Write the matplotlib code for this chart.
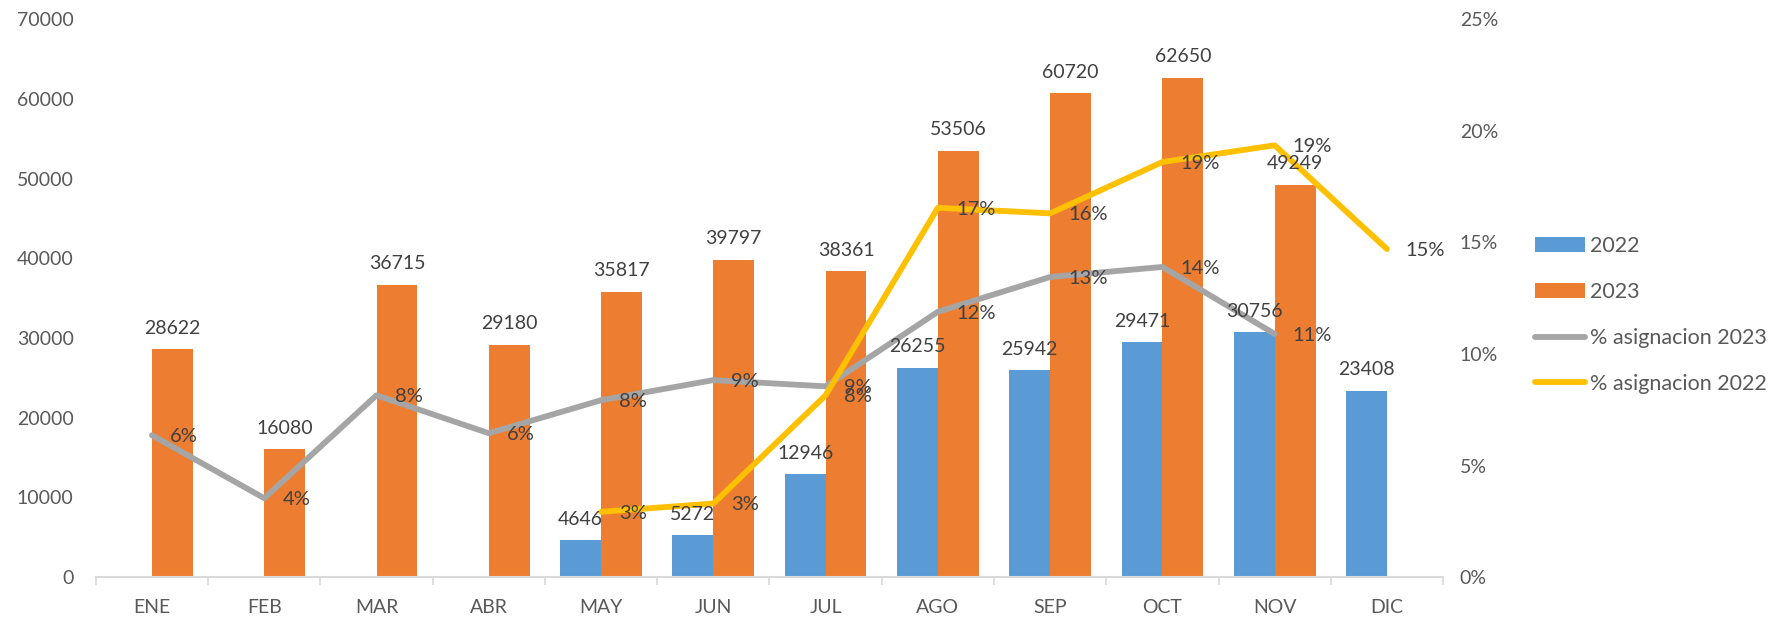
import numpy as np
import matplotlib
matplotlib.use("Agg")
import matplotlib.pyplot as plt
from matplotlib.ticker import FuncFormatter, FixedLocator

months = ["ENE", "FEB", "MAR", "ABR", "MAY", "JUN", "JUL", "AGO", "SEP", "OCT", "NOV", "DIC"]
v2022 = [None, None, None, None, 4646, 5272, 12946, 26255, 25942, 29471, 30756, 23408]
v2023 = [28622, 16080, 36715, 29180, 35817, 39797, 38361, 53506, 60720, 62650, 49249, None]
pct2023 = [0.0636, 0.0354, 0.0815, 0.0645, 0.0793, 0.0883, 0.0855, 0.1189, 0.1345, 0.1390, 0.1090, None]
pct2022 = [None, None, None, None, 0.0293, 0.0330, 0.0815, 0.1655, 0.1630, 0.1860, 0.1935, 0.1470]

plt.rcParams['font.family'] = ['Lato', 'DejaVu Sans']

C_BLUE = "#5B9BD5"
C_ORANGE = "#ED7D31"
C_GRAY = "#A5A5A5"
C_GOLD = "#FFC000"
C_TICK = "#595959"
C_LAB = "#404040"

fig = plt.figure(figsize=(17.75, 6.18), dpi=100)
ax = fig.add_axes([0.054, 0.066, 0.759, 0.903])
ax2 = ax.twinx()

x = np.arange(len(months))
bw = 0.364

def pairs(vals):
    xs = [i for i, v in enumerate(vals) if v is not None]
    ys = [vals[i] for i in xs]
    return np.array(xs, dtype=float), np.array(ys, dtype=float)

bx22, by22 = pairs(v2022)
bx23, by23 = pairs(v2023)
b1 = ax.bar(bx22 - bw / 2, by22, width=bw, color=C_BLUE, label="2022", zorder=2)
b2 = ax.bar(bx23 + bw / 2, by23, width=bw, color=C_ORANGE, label="2023", zorder=2)

lx23, ly23 = pairs(pct2023)
lx22, ly22 = pairs(pct2022)
l1, = ax2.plot(lx23, ly23, color=C_GRAY, lw=4.2, solid_capstyle='round', solid_joinstyle='round',
               label="% asignacion 2023", zorder=3)
l2, = ax2.plot(lx22, ly22, color=C_GOLD, lw=4.2, solid_capstyle='round', solid_joinstyle='round',
               label="% asignacion 2022", zorder=4)

ax.set_xlim(-0.5, len(months) - 0.5)
ax.set_ylim(0, 70000)
ax2.set_ylim(0, 0.25)
ax.set_yticks(np.arange(0, 70001, 10000))
ax2.set_yticks(np.arange(0, 0.2501, 0.05))
ax2.yaxis.set_major_formatter(FuncFormatter(lambda v, p: f"{v*100:.0f}%"))
ax.yaxis.set_major_formatter(FuncFormatter(lambda v, p: f"{v:.0f}"))

ax.set_xticks(x)
ax.set_xticklabels(months)
ax.xaxis.set_minor_locator(FixedLocator(np.arange(-0.5, len(months), 1.0)))
ax.tick_params(axis='x', which='major', length=0, pad=16, labelsize=14, labelcolor=C_TICK)
ax.tick_params(axis='x', which='minor', length=5.5, width=1.2, color="#D9D9D9")
ax.tick_params(axis='y', length=0, pad=16, labelsize=14, labelcolor=C_TICK)
ax2.tick_params(axis='y', length=0, pad=12, labelsize=14, labelcolor=C_TICK)
for lab in ax2.get_yticklabels():
    lab.set_horizontalalignment('left')

for a in (ax, ax2):
    for s in ("top", "left", "right"):
        a.spines[s].set_visible(False)
ax2.spines["bottom"].set_visible(False)
ax.spines["bottom"].set_color("#D9D9D9")
ax.spines["bottom"].set_linewidth(1.5)

# bar labels (drawn on top axis so they sit above lines)
for xs, ys, off in ((bx22, by22, -bw / 2), (bx23, by23, bw / 2)):
    for xi, yi in zip(xs, ys):
        ax2.annotate(f"{int(yi)}", xy=(xi + off, yi), xycoords=ax.transData,
                     xytext=(0, 9), textcoords="offset points", ha="center", va="bottom",
                     fontsize=14, color=C_LAB, zorder=6)

for xs, ys in ((lx23, ly23), (lx22, ly22)):
    for xi, yi in zip(xs, ys):
        ax2.annotate(f"{yi*100:.0f}%", xy=(xi, yi), xytext=(13, -1), textcoords="offset points",
                     ha="left", va="center", fontsize=14.5, color=C_LAB, zorder=6)

fig.legend(handles=[b1, b2, l1, l2], loc="center left", bbox_to_anchor=(0.865, 0.49),
           frameon=False, fontsize=15.5, handlelength=2.3, handletextpad=0.25, labelspacing=1.2,
           borderpad=0, borderaxespad=0, labelcolor=C_TICK)

fig.savefig("out.png", dpi=100)
